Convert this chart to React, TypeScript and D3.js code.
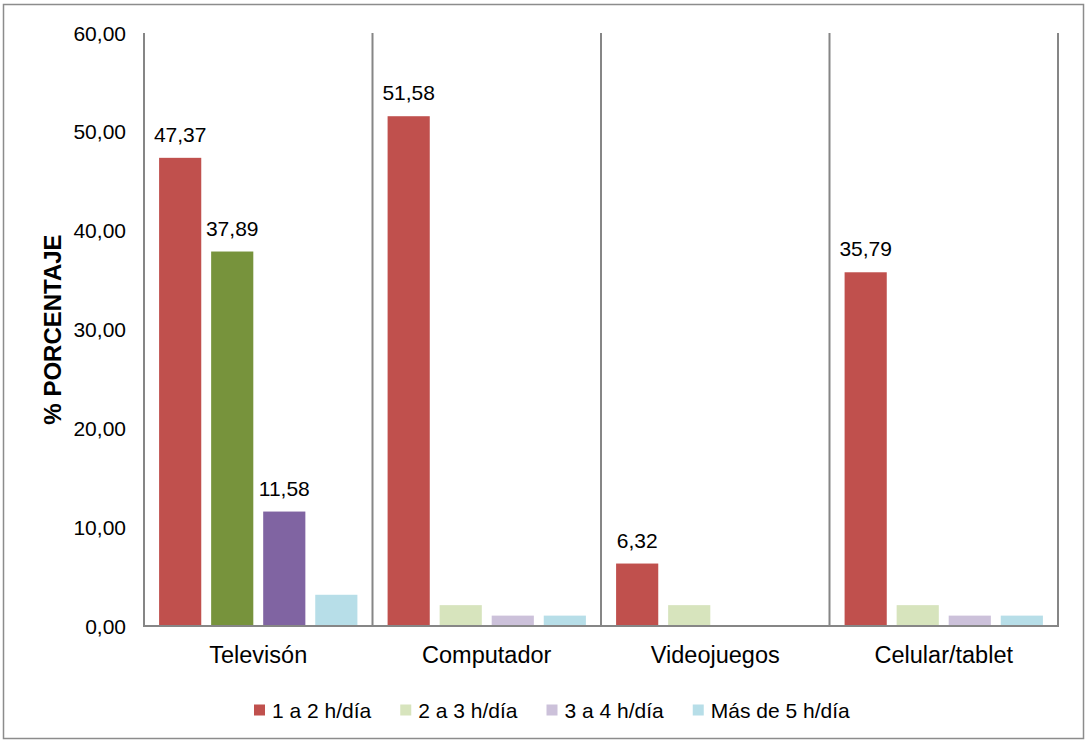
import React, { useEffect, useRef } from "react";
import * as d3 from "d3";

// Device categories and usage-time series (% of respondents)
const categories = ["Televisón", "Computador", "Videojuegos", "Celular/tablet"];
const seriesNames = ["1 a 2 h/día", "2 a 3 h/día", "3 a 4 h/día", "Más de 5 h/día"];
const serie1a2 = [47.37, 51.58, 6.32, 35.79];
const serie2a3 = [37.89, 2.11, 2.11, 2.11];
const serie3a4 = [11.58, 1.05, 0, 1.05];
const serieMas5 = [3.16, 1.05, 0, 1.05];
const seriesValues = [serie1a2, serie2a3, serie3a4, serieMas5];
// which bars carry a value label (rows = series, columns = categories)
const labelled = [
  [true, true, true, true],
  [true, false, false, false],
  [true, false, false, false],
  [false, false, false, false],
];
const yTicks = [0, 10, 20, 30, 40, 50, 60];

const legendColors = ["#C0504D", "#D7E4BD", "#CCC1DA", "#B7DEE8"];
// the first category uses stronger fills for the middle series
const firstCategoryColors = ["#C0504D", "#77933C", "#8064A2", "#B7DEE8"];

const W = 1088;
const H = 740;
const FONT = "Liberation Sans, Arial, sans-serif";

const fmt = (v: number) => v.toFixed(2).replace(".", ",");

export default function App() {
  const ref = useRef<SVGSVGElement>(null);

  useEffect(() => {
    const svg = d3.select(ref.current);
    svg.selectAll("*").remove();

    const left = 144, right = 1058, top = 33, bottom = 626;
    const grey = "#868686";

    // outer chart border
    svg.append("rect")
      .attr("x", 3.5).attr("y", 4.5)
      .attr("width", W - 4.5 - 3.5).attr("height", H - 1.5 - 4.5)
      .attr("fill", "#fff").attr("stroke", "#8c8c8c").attr("stroke-width", 1.5);

    const x0 = d3.scaleBand<string>().domain(categories).range([left, right]).padding(0);
    const x1 = d3.scaleBand<string>().domain(seriesNames)
      .range([0, x0.bandwidth()]).paddingInner(0.19).paddingOuter(0.29);
    const y = d3.scaleLinear().domain([0, 60]).range([bottom, top]);

    // category separators and right frame line
    const seps = categories.map((c) => x0(c)!).concat([right]);
    svg.append("g").selectAll("line").data(seps).join("line")
      .attr("x1", (d) => d).attr("x2", (d) => d)
      .attr("y1", y(60)).attr("y2", bottom + 1)
      .attr("stroke", grey).attr("stroke-width", 2);

    // bars
    const g = svg.append("g");
    categories.forEach((cat, ci) => {
      seriesNames.forEach((s, si) => {
        const v = seriesValues[si][ci];
        if (v <= 0) return;
        const fill = ci === 0 ? firstCategoryColors[si] : legendColors[si];
        g.append("rect")
          .attr("x", x0(cat)! + x1(s)!)
          .attr("y", y(v))
          .attr("width", x1.bandwidth())
          .attr("height", y(0) - y(v))
          .attr("fill", fill);
        if (labelled[si][ci]) {
          g.append("text")
            .attr("x", x0(cat)! + x1(s)! + x1.bandwidth() / 2)
            .attr("y", y(v) - 16)
            .attr("text-anchor", "middle")
            .attr("font-family", FONT)
            .attr("font-size", 21)
            .attr("fill", "#000")
            .text(fmt(v));
        }
      });
    });

    // x axis baseline
    svg.append("line")
      .attr("x1", left - 1).attr("x2", right + 1)
      .attr("y1", bottom).attr("y2", bottom)
      .attr("stroke", grey).attr("stroke-width", 2);

    // y tick labels
    svg.append("g").selectAll("text").data(yTicks).join("text")
      .attr("x", 126).attr("y", (d) => y(d))
      .attr("dy", "0.36em")
      .attr("text-anchor", "end")
      .attr("font-family", FONT).attr("font-size", 21)
      .text((d) => fmt(d));

    // category labels
    svg.append("g").selectAll("text").data(categories).join("text")
      .attr("x", (d) => x0(d)! + x0.bandwidth() / 2)
      .attr("y", 663)
      .attr("text-anchor", "middle")
      .attr("font-family", FONT).attr("font-size", 23.5)
      .text((d) => d);

    // y axis title
    svg.append("text")
      .attr("transform", `translate(61, ${(top + bottom) / 2}) rotate(-90)`)
      .attr("text-anchor", "middle")
      .attr("font-family", FONT).attr("font-size", 24).attr("font-weight", "bold")
      .text("% PORCENTAJE");

    // legend
    const leg = svg.append("g");
    let lx = 254;
    const ly = 710;
    seriesNames.forEach((s, i) => {
      leg.append("rect")
        .attr("x", lx).attr("y", ly - 5.5).attr("width", 11).attr("height", 11)
        .attr("fill", legendColors[i]);
      const t = leg.append("text")
        .attr("x", lx + 18).attr("y", ly).attr("dy", "0.36em")
        .attr("font-family", FONT).attr("font-size", 21)
        .text(s);
      const w = (t.node() as SVGTextElement).getComputedTextLength();
      lx += 18 + w + 29;
    });
  }, []);

  return (
    <svg ref={ref} width={W} height={H} style={{ display: "block", position: "absolute", left: 0, top: 0 }} />
  );
}
